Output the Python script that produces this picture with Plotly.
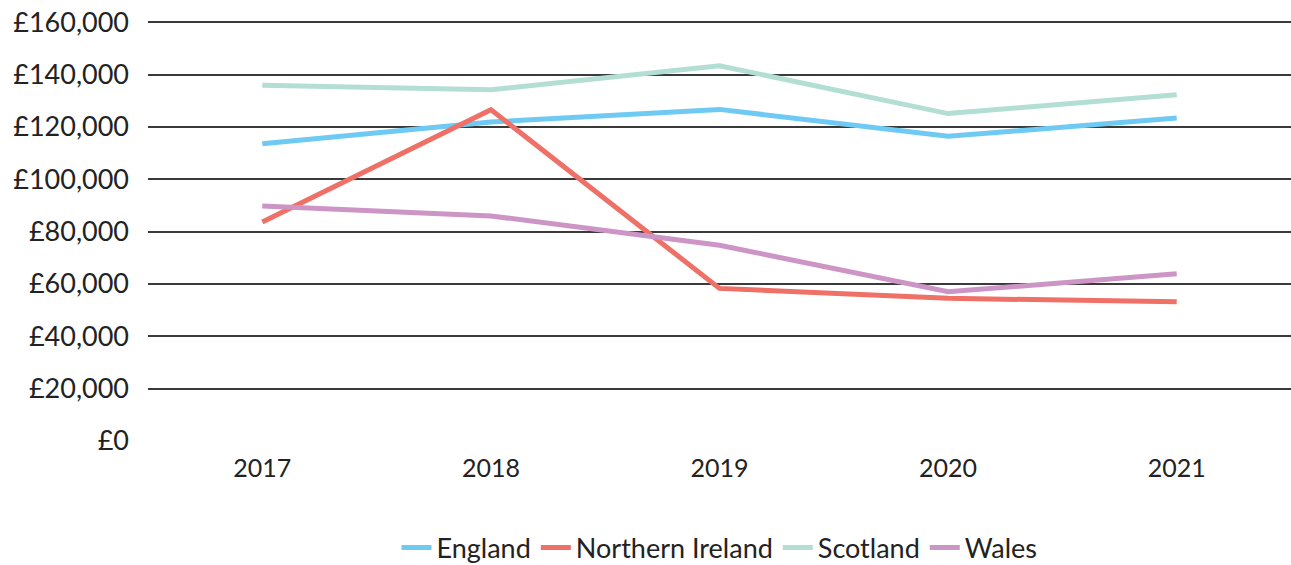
import plotly.graph_objects as go

years = ["2017", "2018", "2019", "2020", "2021"]
england = [113600, 121900, 126700, 116400, 123400]
northern_ireland = [83700, 126600, 58300, 54500, 53200]
scotland = [135900, 134200, 143400, 125100, 132300]
wales = [89800, 86000, 74800, 57000, 63900]

series = [
    ("England", england, "#6ecaf3"),
    ("Northern Ireland", northern_ireland, "#ee7066"),
    ("Scotland", scotland, "#b3ded4"),
    ("Wales", wales, "#cd95c5"),
]

y_ticks = [0, 20000, 40000, 60000, 80000, 100000, 120000, 140000, 160000]
y_labels = ["£0", "£20,000", "£40,000", "£60,000", "£80,000", "£100,000",
            "£120,000", "£140,000", "£160,000"]

fig = go.Figure()
for name, vals, color in series:
    fig.add_trace(go.Scatter(
        x=years, y=vals, name=name, mode="lines",
        line=dict(color=color, width=5),
    ))

font_family = "Lato, 'Noto Sans', sans-serif"

fig.update_layout(
    width=1291, height=565,
    margin=dict(l=148, r=0, t=17, b=124),
    paper_bgcolor="white", plot_bgcolor="white",
    font=dict(family=font_family, size=26, color="#222222"),
    showlegend=True,
    legend=dict(
        orientation="h", x=0.5, xanchor="center",
        yref="container", y=0.03, yanchor="middle",
        font=dict(size=27, color="#222222"),
        itemwidth=30, tracegroupgap=0,
    ),
    xaxis=dict(
        type="category", range=[-0.5, 4.5],
        showgrid=False, zeroline=False, showline=False,
        ticks="", tickfont=dict(size=25), ticklabelstandoff=10,
    ),
    yaxis=dict(
        range=[0, 162000], tickvals=y_ticks, ticktext=y_labels,
        showgrid=True, gridcolor="#3a3a3a", gridwidth=1.5,
        zeroline=False, showline=False, ticks="",
        tickfont=dict(size=27), ticklabelstandoff=18,
    ),
)

fig.write_html("out.html")
